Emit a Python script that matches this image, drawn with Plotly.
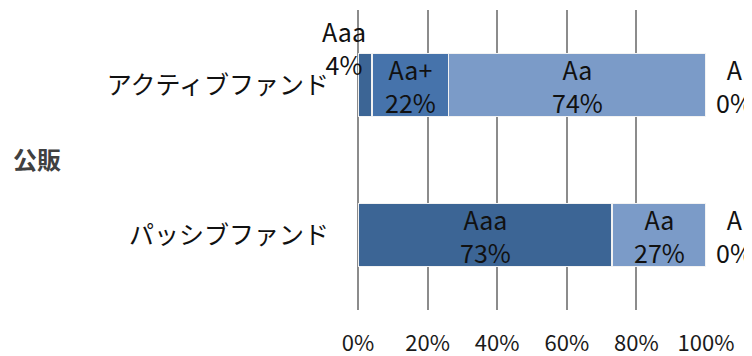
import plotly.graph_objects as go

categories = ["パッシブファンド", "アクティブファンド"]
series_names = ["Aaa", "Aa+", "Aa", "A"]
aaa = [73, 4]
aa_plus = [0, 22]
aa = [27, 74]
a = [0, 0]
x_ticks = [0, 20, 40, 60, 80, 100]
x_tick_labels = ["0%", "20%", "40%", "60%", "80%", "100%"]
axis_title = "公販"

colors = ["#3c6595", "#4673ab", "#7b9bc8", "#a9bfdf"]
FONT = "Noto Sans CJK JP"
# the page body has an 8px default margin; size the figure so it fits the window
OFF = 8
W, H = 752 - OFF, 356 - OFF
ML, MR, MT, MB = 358 - OFF, 46, 10 - OFF, 46

fig = go.Figure()
series = [aaa, aa_plus, aa, a]
for name, vals, col in zip(series_names, series, colors):
    fig.add_trace(go.Bar(
        y=categories, x=vals, name=name, orientation="h",
        marker=dict(color=col, line=dict(color="#f2f2f2", width=1.5)),
        width=0.42, showlegend=False, hoverinfo="skip",
    ))

lab_font = dict(size=25, color="#111111", family=FONT)
annotations = []
for ci, cat in enumerate(categories):
    cum = 0
    for si, (name, vals) in enumerate(zip(series_names, series)):
        v = vals[ci]
        mid = cum + v / 2
        text = f"{name}<br>{v}%"
        if si == len(series) - 1:
            annotations.append(dict(x=cum + v, y=cat, text=text, showarrow=False,
                                    xshift=28, font=lab_font))
        elif v == 0:
            pass
        elif v < 8:
            annotations.append(dict(x=mid, y=cat, text=text, showarrow=False,
                                    xshift=-21, yshift=38, font=lab_font))
        else:
            annotations.append(dict(x=mid, y=cat, text=text, showarrow=False,
                                    font=lab_font))
        cum += v

plot_w = W - ML - MR
plot_h = H - MT - MB
annotations.append(dict(x=(11 - OFF - ML) / plot_w, xref="paper", xanchor="left",
                        y=(H - MB - (158 - OFF)) / plot_h, yref="paper", yanchor="middle",
                        text=f"<b>{axis_title}</b>", showarrow=False,
                        font=dict(size=24, color="#404040", family=FONT)))

fig.update_layout(
    width=W, height=H,
    margin=dict(l=ML, r=MR, t=MT, b=MB, autoexpand=False),
    barmode="stack",
    plot_bgcolor="white", paper_bgcolor="white",
    font=dict(family=FONT, color="#1a1a1a"),
    annotations=annotations,
)

fig.update_xaxes(range=[0, 100], tickvals=x_ticks, ticktext=x_tick_labels,
                 showgrid=True, gridcolor="#8c8c8c", gridwidth=1.5,
                 zeroline=True, zerolinecolor="#8c8c8c", zerolinewidth=1.5,
                 showline=False, ticks="", automargin=False,
                 tickfont=dict(size=22, color="#1a1a1a", family=FONT),
                 ticklabelstandoff=18, fixedrange=True)
fig.update_yaxes(range=[-0.5, 1.5], showgrid=False, zeroline=False, showline=False,
                 ticks="", automargin=False,
                 tickfont=dict(size=25, color="#111111", family=FONT),
                 ticklabelstandoff=28, fixedrange=True)

fig.write_html("out.html")
